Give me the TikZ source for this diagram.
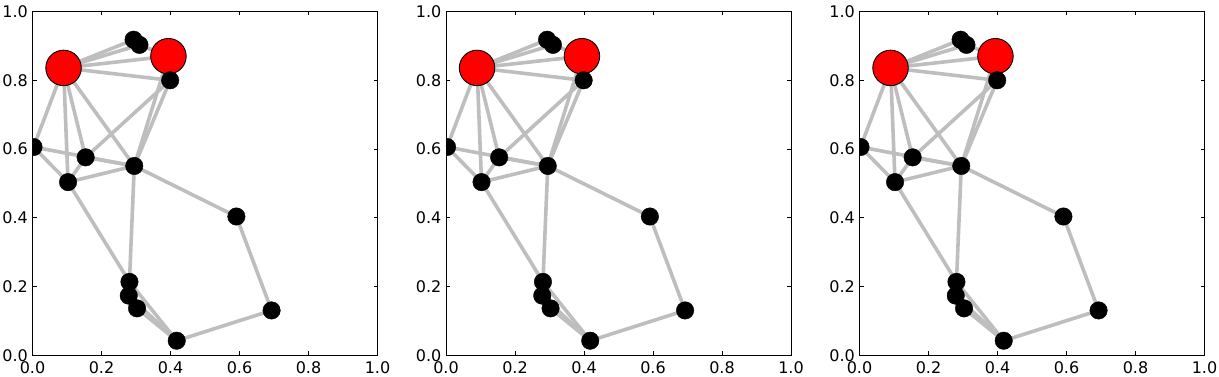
\documentclass[tikz,border=0pt]{standalone}
\usepackage{fontspec}
\setmainfont{DejaVu Sans}
\usetikzlibrary{backgrounds}
\definecolor{edgegray}{HTML}{BEBEBE}
\tikzset{
  edge/.style={draw=edgegray, line width=3.6pt},
  rednode/.style={circle, fill=red, draw=black, line width=0.9pt, minimum size=35.5pt, inner sep=0pt},
  blknode/.style={circle, fill=black, draw=black, minimum size=17.5pt, inner sep=0pt},
  axframe/.style={draw=black, line width=1pt},
  tickmark/.style={draw=black, line width=0.8pt},
  ticklab/.style={font=\fontsize{16}{16}\selectfont, inner sep=0pt},
}
\newcommand\drawpanel[2]{%
  \begin{scope}[shift={(#2pt,21.5pt)}, x=345pt, y=344pt]
    \foreach \t/\l [count=\i] in {0/0.0,0.2/0.2,0.4/0.4,0.6/0.6,0.8/0.8,1/1.0}{
      \draw[tickmark] (\t,0) -- ++(0,4pt);
      \draw[tickmark] (\t,1) -- ++(0,-4pt);
      \draw[tickmark] (0,\t) -- ++(4pt,0);
      \draw[tickmark] (1,\t) -- ++(-4pt,0);
      \path (\t,0) ++(0,-18.5pt) node[ticklab, anchor=base] (#1x\i) {\l};
      \path (0,\t) ++(-4.5pt,-5.8pt) node[ticklab, anchor=base east] (#1y\i) {\l};
    }
    \draw[axframe] (0,0) rectangle (1,1);
    \begin{scope}
      \clip (0,0) rectangle (1,1);
      \node[rednode] (#1A) at (0.090,0.836) {};
      \node[rednode] (#1B) at (0.394,0.870) {};
      \node[blknode] (#1C) at (0.293,0.918) {};
      \node[blknode] (#1D) at (0.310,0.903) {};
      \node[blknode] (#1E) at (0.399,0.800) {};
      \node[blknode] (#1F) at (0.003,0.606) {};
      \node[blknode] (#1G) at (0.154,0.576) {};
      \node[blknode] (#1H) at (0.295,0.551) {};
      \node[blknode] (#1I) at (0.103,0.504) {};
      \node[blknode] (#1J) at (0.591,0.404) {};
      \node[blknode] (#1K) at (0.281,0.214) {};
      \node[blknode] (#1L) at (0.279,0.174) {};
      \node[blknode] (#1M) at (0.303,0.137) {};
      \node[blknode] (#1N) at (0.418,0.043) {};
      \node[blknode] (#1O) at (0.693,0.131) {};
    \end{scope}
    \begin{pgfonlayer}{background}
      \foreach \a/\b in {A/B,A/C,A/D,A/E,A/F,A/G,A/H,A/I,D/B,B/H,E/H,E/G,F/H,F/I,G/H,G/I,I/H,I/K,H/K,H/J,J/O,O/N,K/N,L/N,M/N}{
        \draw[edge] (#1\a.center) -- (#1\b.center);
      }
    \end{pgfonlayer}
  \end{scope}}
\begin{document}
\begin{tikzpicture}
  \useasboundingbox (0,0) rectangle (1219pt,377pt);
  \drawpanel{p}{32.5}
  \drawpanel{q}{446}
  \drawpanel{r}{859.5}
\end{tikzpicture}
\end{document}
